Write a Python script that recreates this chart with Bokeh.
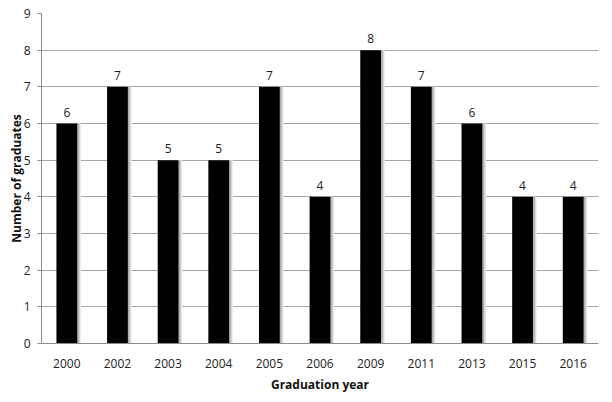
from bokeh.plotting import figure
from bokeh.models import ColumnDataSource, FixedTicker
from bokeh.transform import dodge
from bokeh.core.properties import value
from bokeh.embed import file_html
from bokeh.resources import INLINE

years = ["2000", "2002", "2003", "2004", "2005", "2006", "2009", "2011", "2013", "2015", "2016"]
graduates = [6, 7, 5, 5, 7, 4, 8, 7, 6, 4, 4]
y_ticks = [0, 1, 2, 3, 4, 5, 6, 7, 8, 9]

src = ColumnDataSource(dict(years=years, graduates=graduates,
                            labels=[str(v) for v in graduates]))

FONT = "Open Sans"

p = figure(x_range=years, y_range=(0, 9), width=610, height=400,
           output_backend="svg", toolbar_location=None,
           min_border_left=41, min_border_right=12, min_border_top=13, min_border_bottom=57)
p.outline_line_color = None

# shadow layers
for off, col in [(0.075, "#eeeeee"), (0.06, "#dddddd"), (0.045, "#c8c8c8"), (0.03, "#b0b0b0")]:
    p.vbar(x=dodge("years", off, range=p.x_range), top="graduates", bottom=0, width=0.41,
           source=src, fill_color=col, line_color=None)
p.vbar(x="years", top="graduates", bottom=0, width=0.41, source=src,
       fill_color="black", line_color=None)

p.text(x="years", y="graduates", text="labels", source=src, text_align="center",
       text_baseline="bottom", y_offset=-7, text_font=value(FONT), text_font_size="12px",
       text_color="#222222")

p.yaxis.ticker = FixedTicker(ticks=y_ticks)
p.ygrid.grid_line_color = "#a6a6a6"
p.ygrid.grid_line_width = 1
p.xgrid.grid_line_color = None

for ax in (p.xaxis, p.yaxis):
    ax.axis_line_color = "#8c8c8c"
    ax.major_label_text_font = FONT
    ax.major_label_text_font_size = "12px"
    ax.major_label_text_color = "#222222"
    ax.axis_label_text_font = FONT
    ax.axis_label_text_font_style = "bold"
    ax.axis_label_text_font_size = "12px"
    ax.axis_label_text_color = "#111111"
    ax.minor_tick_line_color = None

p.yaxis.major_tick_line_color = "#8c8c8c"
p.yaxis.major_tick_out = 4
p.yaxis.major_tick_in = 0
p.yaxis.major_label_standoff = 7
p.yaxis.axis_label = "Number of graduates"
p.yaxis.axis_label_standoff = -4

p.xaxis.major_tick_line_color = None
p.xaxis.major_label_standoff = 9
p.xaxis.axis_label = "Graduation year"
p.xaxis.axis_label_standoff = 5

open("out.html", "w").write(file_html(p, INLINE))
